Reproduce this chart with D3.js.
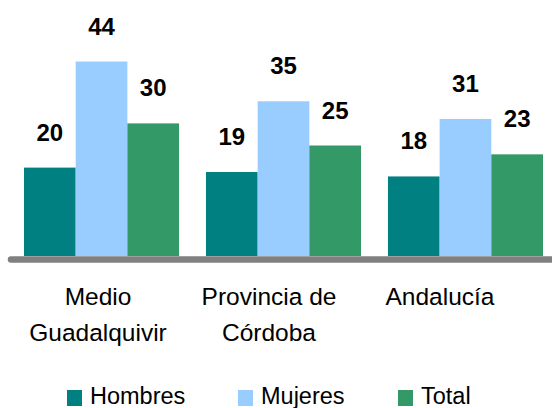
<!DOCTYPE html>
<html>
<head>
<meta charset="utf-8">
<script src="https://cdn.jsdelivr.net/npm/d3@7"></script>
<style>
  body { margin: 0; background: #fff; }
  svg text { font-family: "Liberation Sans", Arial, sans-serif; }
</style>
</head>
<body>
<div id="chart"></div>
<script>
// Data
const categories = ["Medio Guadalquivir", "Provincia de Córdoba", "Andalucía"];
const categoryLines = [["Medio", "Guadalquivir"], ["Provincia de", "Córdoba"], ["Andalucía"]];
const seriesNames = ["Hombres", "Mujeres", "Total"];
const hombres = [20, 19, 18];
const mujeres = [44, 35, 31];
const total = [30, 25, 23];

const colors = {Hombres: "#008080", Mujeres: "#99ccff", Total: "#339966"};

const width = 552, height = 408;
const baseline = 256;

const svg = d3.select("#chart").append("svg")
    .attr("width", width)
    .attr("height", height);

// build rows for drawing
const rows = categories.map((c, i) => ({
    category: c,
    values: [
        {key: "Hombres", value: hombres[i]},
        {key: "Mujeres", value: mujeres[i]},
        {key: "Total", value: total[i]}
    ]
}));

// Scales
const x0 = d3.scaleBand()
    .domain(categories)
    .range([24, 543])
    .paddingInner(0.148)
    .paddingOuter(0);

const x1 = d3.scaleBand()
    .domain(seriesNames)
    .range([0, x0.bandwidth()])
    .padding(0);

const y = d3.scaleLinear()
    .domain([0, 50])
    .range([baseline, baseline - 50 * 4.42]);

// Bars
const groups = svg.selectAll(".group")
    .data(rows)
    .join("g")
    .attr("class", "group")
    .attr("transform", d => `translate(${x0(d.category)},0)`);

groups.selectAll("rect")
    .data(d => d.values)
    .join("rect")
    .attr("x", d => x1(d.key))
    .attr("y", d => y(d.value))
    .attr("width", x1.bandwidth())
    .attr("height", d => baseline - y(d.value))
    .attr("fill", d => colors[d.key]);

// Value labels
groups.selectAll(".val")
    .data(d => d.values)
    .join("text")
    .attr("class", "val")
    .attr("x", d => x1(d.key) + x1.bandwidth() / 2)
    .attr("y", d => y(d.value) - 27)
    .attr("text-anchor", "middle")
    .attr("font-size", 24)
    .attr("font-weight", "bold")
    .attr("fill", "#000")
    .text(d => d.value);

// Axis line
svg.append("line")
    .attr("x1", 11)
    .attr("x2", 560)
    .attr("y1", baseline + 3.5)
    .attr("y2", baseline + 3.5)
    .attr("stroke", "#808080")
    .attr("stroke-width", 6.5)
    .attr("stroke-linecap", "round");

// Category labels
const xLabel = d3.scalePoint()
    .domain(categories)
    .range([98, 440]);

const catLabels = svg.selectAll(".cat")
    .data(categories)
    .join("text")
    .attr("class", "cat")
    .attr("text-anchor", "middle")
    .attr("font-size", 24.5)
    .attr("fill", "#000");

catLabels.selectAll("tspan")
    .data((d, i) => categoryLines[i].map(t => ({t, c: d})))
    .join("tspan")
    .attr("x", d => xLabel(d.c))
    .attr("y", (d, j) => 305 + j * 36)
    .text(d => d.t);

// Legend
const legendX = d3.scaleOrdinal()
    .domain(seriesNames)
    .range([67, 238, 398]);

const legend = svg.selectAll(".legend")
    .data(seriesNames)
    .join("g")
    .attr("class", "legend")
    .attr("transform", d => `translate(${legendX(d)},390)`);

legend.append("rect")
    .attr("width", 15)
    .attr("height", 16)
    .attr("fill", d => colors[d]);

legend.append("text")
    .attr("x", 23)
    .attr("y", 14)
    .attr("font-size", 23.5)
    .attr("fill", "#000")
    .text(d => d);
</script>
</body>
</html>
